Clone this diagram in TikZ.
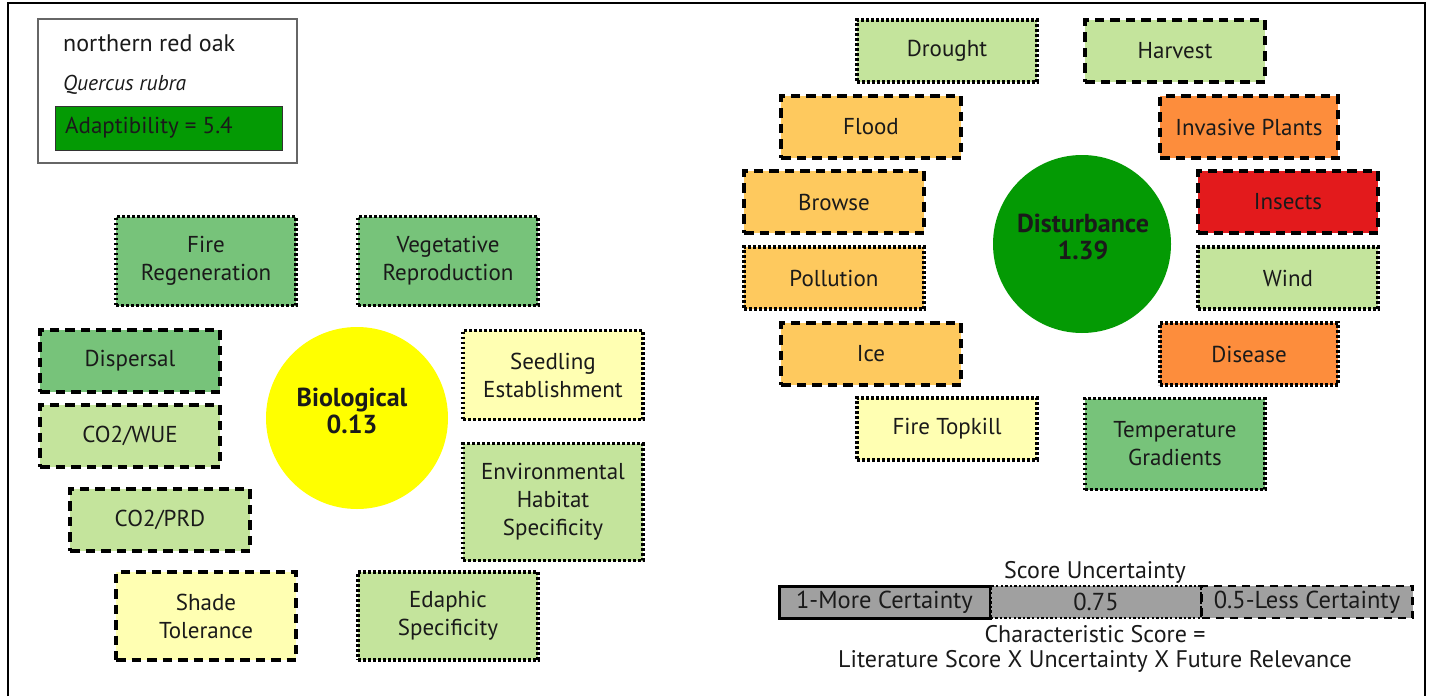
\documentclass[tikz,border=0pt]{standalone}
\usepackage{fontspec}
\setmainfont{PT Sans}
\definecolor{txt}{HTML}{1A1A1A}
\definecolor{gA}{HTML}{77C37A}
\definecolor{gB}{HTML}{C4E49C}
\definecolor{yl}{HTML}{FFFFB2}
\definecolor{ol}{HTML}{FEC95E}
\definecolor{og}{HTML}{FD8D3C}
\definecolor{rd}{HTML}{E31A1C}
\definecolor{dg}{HTML}{049A04}
\definecolor{yc}{HTML}{FFFF00}
\definecolor{bar}{HTML}{A0A0A0}
\tikzset{
  box/.style={draw=black, line width=3.2pt, minimum width=180pt, minimum height=62pt, align=center, inner sep=0pt, text=txt, font=\fontsize{23}{28}\selectfont},
  dsh/.style={box, dash pattern=on 9.5pt off 6pt},
  dtt/.style={box, dash pattern=on 2.6pt off 2.4pt},
  circ/.style={circle, minimum size=#1, inner sep=0pt},
  ctext/.style={align=center, text=txt, inner sep=0pt, font=\bfseries\fontsize{26}{27}\selectfont},
  plain/.style={text=txt, inner sep=0pt, font=\fontsize{24}{28}\selectfont, align=center},
  seg/.style={draw=black, fill=bar, minimum width=211pt, minimum height=32pt, inner sep=0pt, text=txt, font=\fontsize{24.5}{26}\selectfont}
}
\begin{document}
\begin{tikzpicture}[x=1pt,y=-1pt]
\useasboundingbox (0,0) rectangle (1432,696);
\fill[white] (0,0) rectangle (1432,696);
% outer frame
\draw[black, line width=1.6pt] (8,696) -- (8,3) -- (1425,3) -- (1425,696);
% species legend
\node[draw=black!60, line width=1.5pt, minimum width=259pt, minimum height=144pt, inner sep=0pt] (legend) at (167.5,91) {};
\node[plain, anchor=west] (common) at (63,43) {northern red oak};
\node[plain, anchor=west, font=\itshape\fontsize{21.5}{26}\selectfont] (latin) at (63,85) {Quercus rubra};
\node[draw=black!80, fill=dg, line width=1pt, minimum width=227pt, minimum height=44pt, inner sep=0pt] (adapt) at (168.5,128) {};
\node[plain, anchor=west, font=\fontsize{23}{26}\selectfont] (adapttxt) at (65,128) {Adaptibility = 5.4};
% biological
\node[circ=182pt, fill=yc] (bio) at (357,418) {};
\node[ctext] (biotxt) at (352,411) {Biological\\0.13};
\node[dtt, fill=gA, minimum height=89pt] (firereg) at (206,261) {Fire\\Regeneration};
\node[dtt, fill=gA, minimum height=89pt] (vegrep) at (448,261) {Vegetative\\Reproduction};
\node[dsh, fill=gA] (dispersal) at (130,361) {Dispersal};
\node[dsh, fill=gB] (co2wue) at (130,436) {CO2/WUE};
\node[dtt, fill=yl, minimum height=89pt] (seedling) at (553,375) {Seedling\\Establishment};
\node[dtt, fill=gB, minimum height=117pt] (envhab) at (553,502) {Environmental\\Habitat\\Specificity};
\node[dsh, fill=gB] (co2prd) at (160,520) {CO2/PRD};
\node[dsh, fill=yl, minimum height=88pt] (shade) at (206,616) {Shade\\Tolerance};
\node[dtt, fill=gB, minimum height=88pt] (edaphic) at (448,616) {Edaphic\\Specificity};
% disturbance
\node[circ=178pt, fill=dg] (dist) at (1082,244) {};
\node[ctext] (disttxt) at (1083,237) {Disturbance\\1.39};
\node[dtt, fill=gB] (drought) at (947,51) {Drought};
\node[dsh, fill=gB] (harvest) at (1175,51) {Harvest};
\node[dsh, fill=ol] (flood) at (871,127) {Flood};
\node[dsh, fill=og, minimum width=178pt] (invasive) at (1249,127) {Invasive Plants};
\node[dsh, fill=ol] (browse) at (834,202) {Browse};
\node[dsh, fill=rd] (insects) at (1288,202) {Insects};
\node[dtt, fill=ol] (pollution) at (834,278) {Pollution};
\node[dtt, fill=gB] (wind) at (1288,278) {Wind};
\node[dsh, fill=ol] (ice) at (871,354) {Ice};
\node[dtt, fill=og, minimum width=178pt] (disease) at (1249,354) {Disease};
\node[dtt, fill=yl] (firetop) at (947,429) {Fire Topkill};
\node[dtt, fill=gA, minimum height=91pt] (tempgrad) at (1175,444) {Temperature\\Gradients};
% score legend
\node[plain] (sutitle) at (1095,572) {Score Uncertainty};
\node[seg, line width=3pt] (seg1) at (884.5,602) {1-More Certainty};
\node[seg, line width=2.6pt, dash pattern=on 2.4pt off 2.2pt] (seg2) at (1096,602) {0.75};
\node[seg, line width=2.6pt, dash pattern=on 8pt off 6pt] (seg3) at (1307,602) {0.5-Less Certainty};
\node[plain] (cs1) at (1095,634) {Characteristic Score =};
\node[plain] (cs2) at (1095,661) {Literature Score X Uncertainty X Future Relevance};
\end{tikzpicture}
\end{document}
